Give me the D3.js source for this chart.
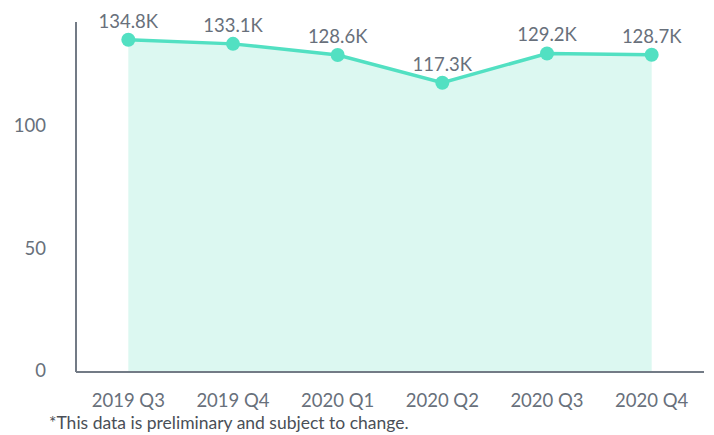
<!DOCTYPE html>
<html>
<head>
<meta charset="utf-8">
<script src="https://cdn.jsdelivr.net/npm/d3@7"></script>
<style>
  body { margin: 0; background: #fff; }
  svg text { font-family: Lato, "Open Sans", sans-serif; fill: #68707b; }
</style>
</head>
<body>
<svg id="chart" width="714" height="435"></svg>
<script>
var quarters = ["2019 Q3", "2019 Q4", "2020 Q1", "2020 Q2", "2020 Q3", "2020 Q4"];
var values = [134.8, 133.1, 128.6, 117.3, 129.2, 128.7];
var valueLabels = ["134.8K", "133.1K", "128.6K", "117.3K", "129.2K", "128.7K"];
var yTicks = [0, 50, 100];
var footnote = "*This data is preliminary and subject to change.";

var svg = d3.select("#chart");
var plotLeft = 76, plotRight = 704, plotTop = 22, plotBottom = 371;

var x = d3.scaleBand().domain(quarters).range([plotLeft, plotRight]).padding(0);
var y = d3.scaleLinear().domain([0, 142]).range([plotBottom, plotTop]);

var data = quarters.map(function (q, i) {
  return { q: q, v: values[i], label: valueLabels[i] };
});
var cx = function (d) { return x(d.q) + x.bandwidth() / 2; };

var area = d3.area().x(cx).y0(y(0)).y1(function (d) { return y(d.v); });
var line = d3.line().x(cx).y(function (d) { return y(d.v); });

svg.append("path").datum(data).attr("d", area).attr("fill", "#dcf8f1");

// axes
svg.append("line").attr("x1", plotLeft).attr("x2", plotLeft).attr("y1", plotTop).attr("y2", plotBottom + 1)
  .attr("stroke", "#737b86").attr("stroke-width", 2);
svg.append("line").attr("x1", plotLeft).attr("x2", plotRight).attr("y1", plotBottom + 1).attr("y2", plotBottom + 1)
  .attr("stroke", "#737b86").attr("stroke-width", 2);

svg.selectAll(".ytick").data(yTicks).enter().append("text")
  .attr("class", "ytick")
  .attr("x", 46).attr("y", function (d) { return y(d); })
  .attr("dy", "0.35em").attr("text-anchor", "end")
  .style("font-size", "18.5px")
  .text(function (d) { return d; });

svg.selectAll(".xtick").data(quarters).enter().append("text")
  .attr("class", "xtick")
  .attr("x", function (d) { return x(d) + x.bandwidth() / 2; })
  .attr("y", 407).attr("text-anchor", "middle")
  .style("font-size", "18.5px")
  .text(function (d) { return d; });

svg.append("path").datum(data).attr("d", line)
  .attr("fill", "none").attr("stroke", "#52e0c2").attr("stroke-width", 3.5);

svg.selectAll(".dot").data(data).enter().append("circle")
  .attr("class", "dot")
  .attr("cx", cx).attr("cy", function (d) { return y(d.v); })
  .attr("r", 7).attr("fill", "#52e0c2");

svg.selectAll(".vlabel").data(data).enter().append("text")
  .attr("class", "vlabel")
  .attr("x", cx).attr("y", function (d) { return y(d.v) - 12; })
  .attr("text-anchor", "middle")
  .style("font-size", "18.5px")
  .text(function (d) { return d.label; });

svg.append("text").attr("x", 49).attr("y", 429)
  .style("font-size", "17.5px")
  .style("fill", "#4a4f57")
  .text(footnote);
</script>
</body>
</html>
